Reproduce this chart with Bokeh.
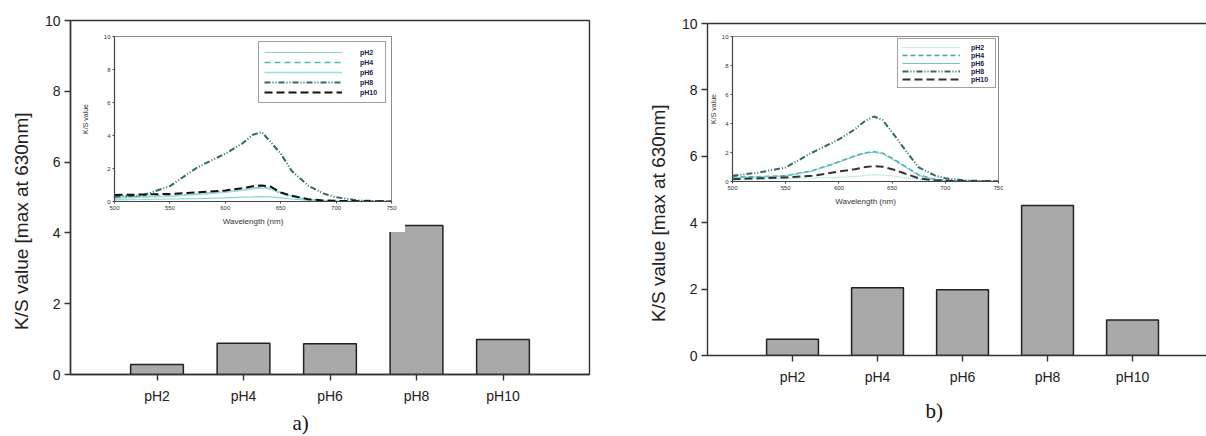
from bokeh.plotting import figure
from bokeh.models import (GridBox, Row, Range1d, FixedTicker, LinearAxis, Legend,
                          LegendItem, Title)
from bokeh.embed import file_html
from bokeh.resources import INLINE

# ---------------- data ----------------
categories = ["pH2", "pH4", "pH6", "pH8", "pH10"]
ks_a = [0.28, 0.88, 0.87, 4.21, 0.99]
ks_b = [0.49, 2.04, 1.98, 4.52, 1.07]

wavelength = [500, 525, 550, 575, 600, 615, 625, 633, 641, 650, 660, 675, 690, 700, 720, 750]

a_pH2 = [0.10, 0.12, 0.15, 0.18, 0.22, 0.26, 0.28, 0.30, 0.28, 0.22, 0.15, 0.07, 0.02, 0.01, 0.00, 0.00]
a_pH4 = [0.25, 0.30, 0.35, 0.45, 0.60, 0.70, 0.80, 0.85, 0.78, 0.50, 0.30, 0.10, 0.03, 0.02, 0.01, 0.00]
a_pH6 = [0.20, 0.26, 0.32, 0.43, 0.57, 0.68, 0.78, 0.82, 0.75, 0.55, 0.32, 0.10, 0.03, 0.02, 0.01, 0.00]
a_pH8 = [0.30, 0.36, 0.93, 2.08, 2.90, 3.50, 4.05, 4.20, 3.60, 2.90, 1.85, 0.95, 0.45, 0.26, 0.06, 0.00]
a_pH10 = [0.40, 0.42, 0.46, 0.55, 0.67, 0.80, 0.92, 0.97, 0.90, 0.55, 0.35, 0.14, 0.06, 0.04, 0.02, 0.00]

b_pH2 = [0.16, 0.18, 0.20, 0.24, 0.28, 0.35, 0.42, 0.46, 0.44, 0.39, 0.28, 0.14, 0.07, 0.05, 0.02, 0.00]
b_pH4 = [0.30, 0.33, 0.40, 0.74, 1.36, 1.77, 1.98, 2.05, 1.95, 1.60, 1.15, 0.45, 0.15, 0.08, 0.03, 0.00]
b_pH6 = [0.28, 0.31, 0.38, 0.72, 1.33, 1.74, 1.95, 2.02, 1.92, 1.55, 1.10, 0.42, 0.13, 0.07, 0.02, 0.00]
b_pH8 = [0.39, 0.62, 0.97, 2.00, 2.90, 3.60, 4.20, 4.48, 4.25, 3.40, 2.40, 0.97, 0.42, 0.22, 0.07, 0.00]
b_pH10 = [0.16, 0.22, 0.28, 0.39, 0.69, 0.85, 1.00, 1.06, 1.02, 0.85, 0.60, 0.22, 0.08, 0.05, 0.02, 0.00]

y_ticks = [0, 2, 4, 6, 8, 10]
inset_x_ticks = [500, 550, 600, 650, 700, 750]
main_ylabel = "K/S value [max at 630nm]"

SANS = "Liberation Sans"
SERIF = "Liberation Serif"
AX = "#333333"
PAD = "\u00a0" * 9   # nudges the rotated axis title downwards, as in the original


def main_panel(values, width, height, left, right, top, bottom, x_end, boxed,
               caption, cap_offset, cap_standoff):
    xpos = [i + 1 for i in range(len(categories))]
    p = figure(width=width, height=height, output_backend="svg",
               toolbar_location=None, x_range=Range1d(0, x_end),
               y_range=Range1d(0, 10), min_border_left=left,
               min_border_right=right, min_border_top=top,
               min_border_bottom=bottom)
    p.grid.visible = False
    p.background_fill_color = "white"
    p.border_fill_color = "white"
    p.vbar(x=xpos, top=values, bottom=0, width=0.61, fill_color="#a9a9a9",
           line_color="#222222", line_width=1.5)
    xa = p.xaxis[0]
    xa.ticker = FixedTicker(ticks=xpos)
    xa.major_label_overrides = {x: c for x, c in zip(xpos, categories)}
    ya = p.yaxis[0]
    ya.ticker = FixedTicker(ticks=y_ticks)
    ya.axis_label = main_ylabel + PAD
    ya.axis_label_text_font = SANS
    ya.axis_label_text_font_size = "19px"
    ya.axis_label_text_font_style = "normal"
    ya.axis_label_text_color = "#222222"
    ya.axis_label_standoff = 10
    for ax in (xa, ya):
        ax.axis_line_color = AX
        ax.axis_line_width = 1.4
        ax.major_tick_line_color = AX
        ax.major_tick_line_width = 1.4
        ax.minor_tick_line_color = None
        ax.major_tick_in = 0
        ax.major_tick_out = 6
        ax.major_label_text_font = SANS
        ax.major_label_text_font_size = "14px"
        ax.major_label_text_color = "#222222"
    xa.major_label_standoff = 7
    ya.major_label_standoff = 4
    if boxed:
        p.outline_line_color = AX
        p.outline_line_width = 1.4
        p.outline_line_alpha = 1
    else:
        p.outline_line_color = None
        top_ax = LinearAxis(ticker=FixedTicker(ticks=[]), axis_line_color=AX,
                            axis_line_width=1.4, major_tick_line_color=None,
                            minor_tick_line_color=None)
        p.add_layout(top_ax, "above")
    cap = Title(text=caption, align="left", offset=cap_offset,
                standoff=cap_standoff, text_font=SERIF,
                text_font_size="21px", text_font_style="normal",
                text_color="#111111")
    p.add_layout(cap, "below")
    return p


def inset_panel(series, styles, width, height, left, right, top, bottom,
                ylab_standoff, leg_margin, leg_pad, glyph_w, glyph_h,
                label_standoff, transparent):
    q = figure(width=width, height=height, output_backend="svg",
               toolbar_location=None, x_range=Range1d(500, 750),
               y_range=Range1d(0, 10), min_border_left=left,
               min_border_right=right, min_border_top=top,
               min_border_bottom=bottom)
    q.grid.visible = False
    q.background_fill_color = "white"
    if transparent:
        q.border_fill_color = None
    else:
        q.border_fill_color = "white"
    q.outline_line_color = "#8a8a8a"
    q.outline_line_width = 1
    items = []
    for name, ys, (color, dash, lw) in zip(categories, series, styles):
        r = q.line(wavelength, ys, line_color=color, line_dash=dash,
                   line_width=lw)
        items.append(LegendItem(label=name, renderers=[r]))
    xa = q.xaxis[0]
    ya = q.yaxis[0]
    xa.ticker = FixedTicker(ticks=inset_x_ticks)
    ya.ticker = FixedTicker(ticks=y_ticks)
    xa.axis_label = "Wavelength (nm)"
    ya.axis_label = "K/S value"
    for ax in (xa, ya):
        ax.axis_line_color = "#444444"
        ax.axis_line_width = 1.2
        ax.major_tick_line_color = "#444444"
        ax.minor_tick_line_color = None
        ax.major_tick_in = 0
        ax.major_tick_out = 2
        ax.major_label_standoff = 2
        ax.major_label_text_font = SANS
        ax.major_label_text_font_size = "6px"
        ax.major_label_text_color = "#333333"
        ax.axis_label_text_font = SANS
        ax.axis_label_text_font_style = "normal"
        ax.axis_label_text_color = "#333333"
    xa.axis_label_text_font_size = "8px"
    xa.axis_label_standoff = 4
    ya.axis_label_text_font_size = "7px"
    ya.axis_label_standoff = ylab_standoff
    leg = Legend(items=items, location="top_right", margin=leg_margin,
                 padding=leg_pad, spacing=0, glyph_width=glyph_w,
                 glyph_height=glyph_h, label_height=glyph_h,
                 label_standoff=label_standoff,
                 label_text_font=SANS, label_text_font_size="7px",
                 label_text_font_style="bold", label_text_color="#1c1c48",
                 border_line_color="#444444", border_line_width=1.2,
                 background_fill_color="white", background_fill_alpha=1)
    q.add_layout(leg)
    return q


styles_a = [("#8fd3d3", "solid", 1.2), ("#4fb8b8", "6 4", 1.6),
            ("#a0dcdc", "solid", 1.6), ("#2e6b6b", "6 2 1 2 1 2", 2.0),
            ("#111111", "8 4", 2.0)]
styles_b = [("#8fd3d3", "1 1", 1.2), ("#3aa8a8", "5 3", 1.6),
            ("#6cc6c6", "solid", 1.0), ("#2e6b6b", "6 2 1 2 1 2", 2.0),
            ("#333333", "8 4", 2.0)]

# panel a: main plot 600x436, inset at (78, 28) size 327x204
main_a = main_panel(ks_a, 600, 436, 70, 11, 20, 62, 6.0, True,
                    "a)", 222, 4)
inset_a = inset_panel([a_pH2, a_pH4, a_pH6, a_pH8, a_pH10], styles_a,
                      327, 204, 35, 14, 8, 31, 12, 5, 5, 78, 10, 18, False)
grid_a = GridBox(children=[(main_a, 0, 0, 3, 3), (inset_a, 1, 1, 1, 1)],
                 rows=["28px", "204px", "204px"],
                 cols=["78px", "327px", "195px"], spacing=0)

# panel b: main plot 606x436, inset at (100, 28) size 303x184
main_b = main_panel(ks_b, 606, 436, 107, 0, 23, 81, 5.87, False,
                    "b)", 218, 18)
inset_b = inset_panel([b_pH2, b_pH4, b_pH6, b_pH8, b_pH10], styles_b,
                      303, 184, 32, 5, 8, 31, 2, 2, 4, 58, 8, 11, True)
grid_b = GridBox(children=[(main_b, 0, 0, 3, 3), (inset_b, 1, 1, 1, 1)],
                 rows=["28px", "184px", "224px"],
                 cols=["100px", "303px", "203px"], spacing=0)

page = Row(children=[grid_a, grid_b], spacing=0)

open("out.html", "w").write(file_html(page, INLINE))
